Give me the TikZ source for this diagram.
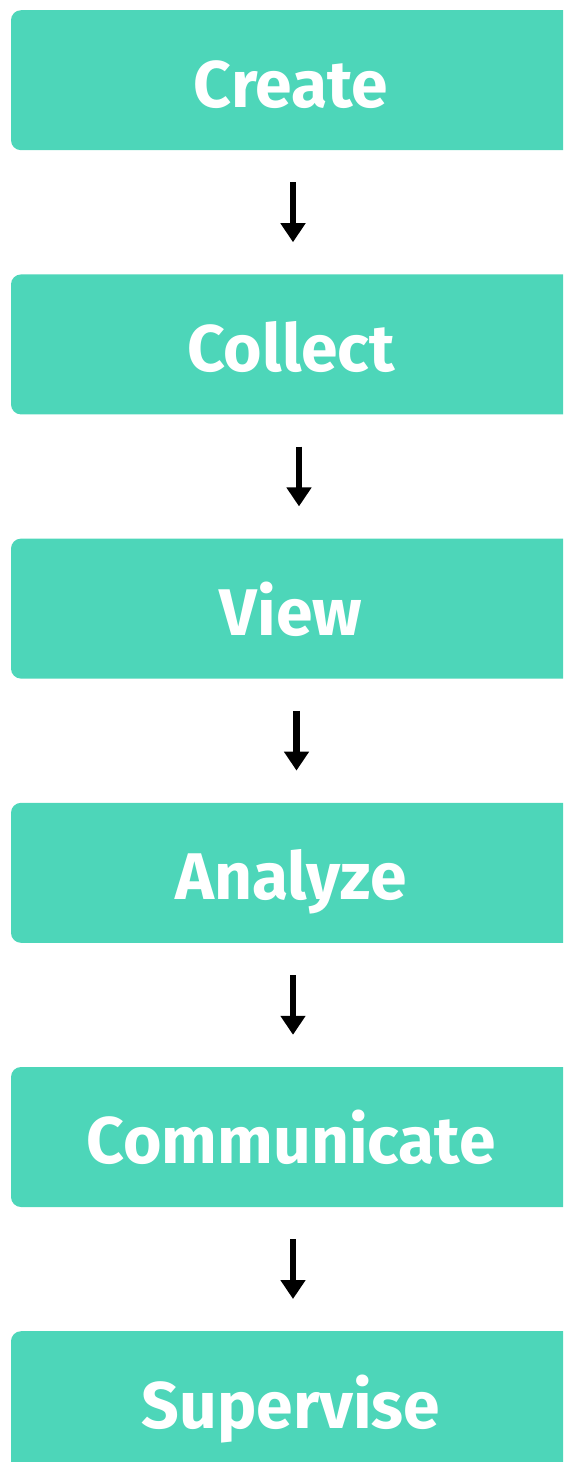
\documentclass[tikz,border=0pt]{standalone}
\usepackage{fontspec}
\setmainfont{Fira Sans}
\usetikzlibrary{arrows.meta,calc}
\definecolor{boxgreen}{RGB}{77,214,185}
\begin{document}
\begin{tikzpicture}[x=1pt,y=-1pt,
  stagebox/.style={fill=boxgreen,draw=none,rounded corners=10pt,minimum width=564pt,minimum height=140pt,inner sep=0pt,anchor=north},
  stagetext/.style={text=white,font=\bfseries\fontsize{66}{66}\selectfont,anchor=base,inner sep=0pt},
  flow/.style={line width=6.5pt,-{Triangle[width=24pt,length=19pt]},shorten <=32pt,shorten >=32pt}]
\useasboundingbox (0,0) rectangle (563,1462);
\clip (0,0) rectangle (563,1462);
\foreach \i/\name/\lab in {0/b1/Create,1/b2/Collect,2/b3/View,3/b4/Analyze,4/b5/Communicate,5/b6/Supervise}{
  \node[stagebox] (\name) at (293,{10+264.2*\i}) {};
  \node[stagetext] (t\name) at (291,{10+264.2*\i+97}) {\lab};
}
\draw[flow] ($(b1.south)+(0,0)$) -- ($(b2.north)+(0,0)$);
\draw[flow] ($(b2.south)+(6,0)$) -- ($(b3.north)+(6,0)$);
\draw[flow] ($(b3.south)+(3.5,0)$) -- ($(b4.north)+(3.5,0)$);
\draw[flow] ($(b4.south)+(0,0)$) -- ($(b5.north)+(0,0)$);
\draw[flow] ($(b5.south)+(0,0)$) -- ($(b6.north)+(0,0)$);
\end{tikzpicture}
\end{document}
